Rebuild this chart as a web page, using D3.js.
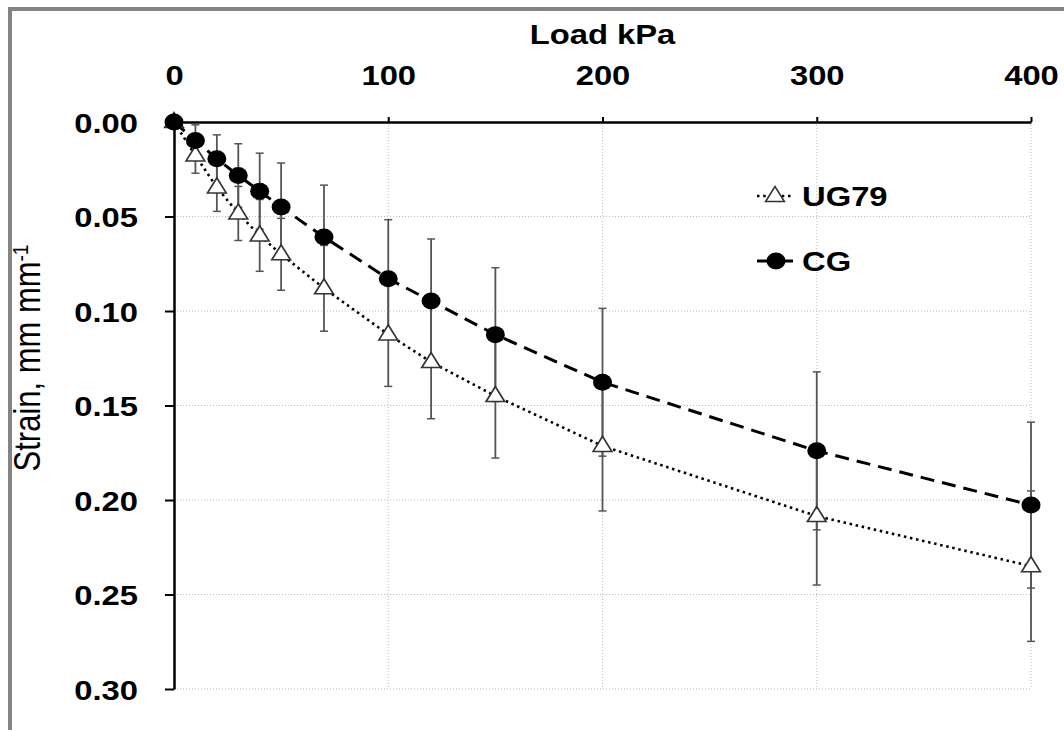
<!DOCTYPE html>
<html>
<head>
<meta charset="utf-8">
<script src="https://cdn.jsdelivr.net/npm/d3@7"></script>
<style>
  body { margin: 0; background: #fff; }
  text { font-family: "Liberation Sans", Arial, sans-serif; fill: #000; }
</style>
</head>
<body>
<div id="chart"></div>
<script>
// load steps (kPa)
const loads = [0, 10, 20, 30, 40, 50, 70, 100, 120, 150, 200, 300, 400];
// UG79 strain and error
const ug79 = [0, 0.0177, 0.0346, 0.0484, 0.060, 0.070, 0.088, 0.1124, 0.127, 0.145, 0.1714, 0.2085, 0.235];
const ug79Err = [0, 0.0094, 0.0127, 0.0143, 0.019, 0.019, 0.0227, 0.0275, 0.030, 0.0328, 0.0344, 0.0365, 0.0398];
// CG strain and error
const cg = [0, 0.0098, 0.0195, 0.0283, 0.0366, 0.045, 0.0609, 0.0829, 0.0947, 0.1125, 0.1377, 0.174, 0.2027];
const cgErr = [0, 0.0083, 0.0127, 0.0168, 0.0201, 0.0233, 0.0275, 0.0312, 0.0328, 0.0354, 0.0391, 0.0418, 0.0439];

const xTicks = [0, 100, 200, 300, 400];
const yTicks = [0, 0.05, 0.10, 0.15, 0.20, 0.25, 0.30];

const SX = 1.17; // the picture is a bit stretched sideways

let margin = { top: 122, left: 174 },
  width = 1031 - 174,
  height = 689 - 122;

let svg = d3.select("#chart")
  .append("svg")
  .attr("width", 1064)
  .attr("height", 730);

// outer frame (top + left edges only visible)
svg.append("line").attr("x1", 8).attr("x2", 1064).attr("y1", 9).attr("y2", 9)
  .attr("stroke", "#848484").attr("stroke-width", 4);
svg.append("line").attr("x1", 10).attr("x2", 10).attr("y1", 7).attr("y2", 730)
  .attr("stroke", "#848484").attr("stroke-width", 4);

let g = svg.append("g")
  .attr("transform", "translate(" + margin.left + "," + margin.top + ")");

let x = d3.scaleLinear().domain([0, 400]).range([0, width]);
let y = d3.scaleLinear().domain([0, 0.30]).range([0, height]);

// gridlines
g.selectAll(".hgrid")
  .data(yTicks.slice(1))
  .enter()
  .append("line")
  .attr("x1", 0).attr("x2", width)
  .attr("y1", d => y(d)).attr("y2", d => y(d))
  .attr("stroke", "#bdbdbd").attr("stroke-dasharray", "1,2");
g.selectAll(".vgrid")
  .data(xTicks.slice(1))
  .enter()
  .append("line")
  .attr("y1", 0).attr("y2", height)
  .attr("x1", d => x(d)).attr("x2", d => x(d))
  .attr("stroke", "#bdbdbd").attr("stroke-dasharray", "1,2");

// axes
let xAxis = g.append("g")
  .call(d3.axisTop(x).tickValues(xTicks).tickSize(5).tickSizeOuter(0).tickFormat(d3.format("d")));
let yAxis = g.append("g")
  .call(d3.axisLeft(y).tickValues(yTicks).tickSize(9).tickSizeOuter(0).tickFormat(d3.format(".2f")));

[xAxis, yAxis].forEach(a => {
  a.select(".domain").attr("stroke", "#000").attr("stroke-width", 2.5);
  a.selectAll(".tick line").attr("stroke", "#000").attr("stroke-width", 2);
  a.selectAll(".tick text")
    .style("font-size", "28px").style("font-weight", "bold")
    .attr("font-family", null);
});
xAxis.selectAll(".tick text")
  .attr("y", 0).attr("dy", 0)
  .attr("transform", "translate(0,-37) scale(" + SX + ",1)");
yAxis.selectAll(".tick text")
  .attr("x", 0).attr("dy", "0.36em")
  .attr("transform", "translate(-36,0) scale(" + SX + ",1)");

// axis titles
svg.append("text")
  .attr("transform", "translate(" + (margin.left + width / 2) + ",44) scale(" + SX + ",1)")
  .attr("text-anchor", "middle")
  .style("font-size", "28px").style("font-weight", "bold")
  .text("Load kPa");

let yt = svg.append("text")
  .attr("transform", "translate(40,358) scale(" + SX + ",1) rotate(-90)")
  .attr("text-anchor", "middle")
  .style("font-size", "31px");
yt.append("tspan").text("Strain, mm mm");
yt.append("tspan").attr("dy", "-0.55em").style("font-size", "19px").text("-1");

// series data
let ugData = loads.map((l, i) => ({ load: l, v: ug79[i], e: ug79Err[i] }));
let cgData = loads.map((l, i) => ({ load: l, v: cg[i], e: cgErr[i] }));

// error bars
function errorBars(data) {
  let eb = g.append("g").attr("stroke", "#555").attr("stroke-width", 1.8);
  data.filter(d => d.e > 0).forEach(d => {
    let cx = x(d.load);
    eb.append("line").attr("x1", cx).attr("x2", cx)
      .attr("y1", y(d.v - d.e)).attr("y2", y(d.v + d.e));
    [d.v - d.e, d.v + d.e].forEach(t => {
      eb.append("line").attr("x1", cx - 4).attr("x2", cx + 4)
        .attr("y1", y(t)).attr("y2", y(t)).attr("stroke-width", 1.5);
    });
  });
}
errorBars(ugData);
errorBars(cgData);

// lines
let line = d3.line().x(d => x(d.load)).y(d => y(d.v));
g.append("path").datum(ugData).attr("d", line)
  .attr("fill", "none").attr("stroke", "#000").attr("stroke-width", 2.6)
  .attr("stroke-dasharray", "2.5,3.7");
g.append("path").datum(cgData).attr("d", line)
  .attr("fill", "none").attr("stroke", "#000").attr("stroke-width", 3)
  .attr("stroke-dasharray", "14,8");

// markers
const triPath = "M0,-9.5L8,5.5L-8,5.5Z";
function triangle(sel, px, py) {
  sel.append("path").attr("d", triPath)
    .attr("transform", "translate(" + px + "," + py + ") scale(" + SX + ",1)")
    .attr("fill", "#fff").attr("stroke", "#333").attr("stroke-width", 1.5);
}
function dot(sel, px, py) {
  sel.append("ellipse").attr("cx", px).attr("cy", py)
    .attr("rx", 9.5).attr("ry", 8.5).attr("fill", "#000");
}
ugData.forEach(d => triangle(g, x(d.load), y(d.v)));
cgData.forEach(d => dot(g, x(d.load), y(d.v)));

// legend
let leg = svg.append("g");
leg.append("line").attr("x1", 757).attr("x2", 793).attr("y1", 196).attr("y2", 196)
  .attr("stroke", "#000").attr("stroke-width", 2.6).attr("stroke-dasharray", "2.5,3.7");
triangle(leg, 775, 196);
leg.append("text")
  .attr("transform", "translate(802,206) scale(" + SX + ",1)")
  .style("font-size", "28px").style("font-weight", "bold").text("UG79");

leg.append("line").attr("x1", 757).attr("x2", 793).attr("y1", 261).attr("y2", 261)
  .attr("stroke", "#000").attr("stroke-width", 3);
dot(leg, 776, 261);
leg.append("text")
  .attr("transform", "translate(802,271) scale(" + SX + ",1)")
  .style("font-size", "28px").style("font-weight", "bold").text("CG");
</script>
</body>
</html>
